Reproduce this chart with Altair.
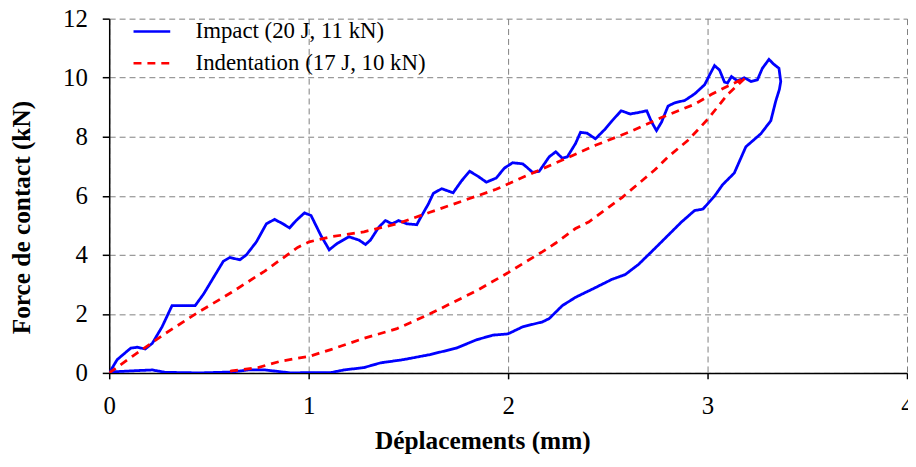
import altair as alt
import pandas as pd

# ---- data ----
impact_x = [0.0, 0.04, 0.108, 0.141, 0.18, 0.216, 0.265, 0.315, 0.373, 0.431, 0.473, 0.522, 0.572, 0.605,
            0.655, 0.688, 0.738, 0.788, 0.829, 0.871, 0.904, 0.937, 0.979, 1.012, 1.061, 1.103, 1.144, 1.202,
            1.252, 1.285, 1.31, 1.352, 1.385, 1.418, 1.451, 1.493, 1.542, 1.567, 1.6, 1.625, 1.667, 1.7,
            1.724, 1.766, 1.807, 1.849, 1.891, 1.94, 1.982, 2.023, 2.073, 2.09, 2.123, 2.156, 2.206, 2.239,
            2.272, 2.297, 2.338, 2.363, 2.396, 2.438, 2.488, 2.521, 2.567, 2.612, 2.653, 2.695, 2.72, 2.744,
            2.769, 2.802, 2.836, 2.886, 2.935, 2.985, 3.01, 3.035, 3.06, 3.085, 3.1, 3.12, 3.15, 3.184,
            3.218, 3.25, 3.275, 3.308, 3.333, 3.358, 3.367,
            3.36, 3.342, 3.317, 3.267, 3.192, 3.134, 3.076, 3.035, 2.977, 2.935, 2.869, 2.802, 2.72, 2.653,
            2.587, 2.521, 2.438, 2.338, 2.272, 2.206, 2.173, 2.073, 1.999, 1.924, 1.841, 1.741, 1.608, 1.476,
            1.36, 1.277, 1.177, 1.111, 1.012, 0.91, 0.78, 0.697, 0.614, 0.45, 0.28, 0.216, 0.116, 0.0]
impact_f = [0.0, 0.45, 0.84, 0.87, 0.81, 1.0, 1.56, 2.28, 2.28, 2.28, 2.67, 3.22, 3.78, 3.91,
            3.83, 4.0, 4.44, 5.05, 5.2, 5.05, 4.91, 5.16, 5.42, 5.33, 4.66, 4.17, 4.39, 4.61,
            4.5, 4.35, 4.5, 4.94, 5.16, 5.05, 5.16, 5.05, 5.02, 5.33, 5.72, 6.08, 6.24, 6.16,
            6.1, 6.5, 6.83, 6.66, 6.46, 6.6, 6.94, 7.12, 7.08, 6.99, 6.79, 6.83, 7.32, 7.49,
            7.27, 7.32, 7.77, 8.15, 8.12, 7.93, 8.27, 8.54, 8.88, 8.77, 8.82, 8.88, 8.49, 8.21,
            8.49, 9.04, 9.15, 9.23, 9.45, 9.76, 10.09, 10.41, 10.26, 9.85, 9.82, 10.04, 9.89, 10.0,
            9.87, 9.93, 10.32, 10.62, 10.45, 10.32, 9.87,
            9.6, 9.21, 8.54, 8.1, 7.66, 6.77, 6.38, 5.99, 5.55, 5.5, 5.11, 4.66, 4.11, 3.67,
            3.33, 3.17, 2.89, 2.56, 2.28, 1.84, 1.73, 1.56, 1.32, 1.28, 1.12, 0.84, 0.62, 0.45,
            0.34, 0.18, 0.1, 0.01, 0.01, 0.0, 0.1, 0.1, 0.03, 0.0, 0.02, 0.1, 0.07, 0.03]

indent_x = [0.0, 0.116, 0.282, 0.448, 0.614, 0.78, 0.945, 1.003, 1.111, 1.277, 1.443, 1.608, 1.774,
            1.94, 2.106, 2.272, 2.438, 2.604, 2.769, 2.935, 3.018, 3.1, 3.19,
            3.1, 3.002, 2.902, 2.802, 2.736, 2.687, 2.571, 2.404, 2.338, 2.239, 2.173, 1.999, 1.841,
            1.608, 1.443, 1.277, 1.111, 1.003, 0.862, 0.746, 0.614, 0.58]
indent_f = [0.0, 0.56, 1.34, 2.06, 2.73, 3.45, 4.25, 4.44, 4.61, 4.78, 5.05, 5.44, 5.83,
            6.22, 6.72, 7.21, 7.71, 8.15, 8.65, 9.1, 9.43, 9.71, 10.0,
            9.43, 8.6, 7.88, 7.32, 6.88, 6.6, 5.94, 5.11, 4.89, 4.4, 4.11, 3.39, 2.78,
            2.0, 1.5, 1.17, 0.79, 0.56, 0.4, 0.18, 0.07, 0.0]

series_names = ["Impact (20 J, 11 kN)", "Indentation (17 J, 10 kN)"]
x_ticks = [0, 1, 2, 3, 4]
y_ticks = [0, 2, 4, 6, 8, 10, 12]

assert len(impact_x) == len(impact_f)
assert len(indent_x) == len(indent_f)

df = pd.concat([
    pd.DataFrame({"x": impact_x, "f": impact_f, "series": series_names[0],
                  "i": range(len(impact_x))}),
    pd.DataFrame({"x": indent_x, "f": indent_f, "series": series_names[1],
                  "i": range(len(indent_x))}),
])

FONT = "Liberation Serif"

legend_kw = dict(title=None, orient="none", legendX=23, legendY=-7,
                 symbolType="stroke", symbolSize=1369, symbolStrokeWidth=2.5,
                 labelFont=FONT, labelFontSize=23, labelColor="black",
                 labelOffset=24, rowPadding=-6, labelLimit=500)

chart = alt.Chart(df).mark_line(strokeWidth=2.8, clip=True).encode(
    x=alt.X("x:Q", scale=alt.Scale(domain=[0, 4], nice=False),
            axis=alt.Axis(values=x_ticks, title="Déplacements (mm)", format="d",
                          labelFont=FONT, labelFontSize=25, labelFlush=False,
                          titleX=376, titleY=68, titleBaseline="middle",
                          tickSize=6, labelPadding=15)),
    y=alt.Y("f:Q", scale=alt.Scale(domain=[0, 12], nice=False),
            axis=alt.Axis(values=y_ticks, title="Force de contact (kN)", format="d",
                          labelFont=FONT, labelFontSize=25, labelFlush=False,
                          titleX=-88, titleY=200, titleBaseline="middle", titleAngle=270,
                          tickSize=7, labelPadding=15)),
    color=alt.Color("series:N",
                    scale=alt.Scale(domain=series_names, range=["#0000FF", "#FF0000"]),
                    legend=alt.Legend(**legend_kw)),
    strokeDash=alt.StrokeDash("series:N",
                              scale=alt.Scale(domain=series_names, range=[[1, 0], [8, 6]]),
                              legend=alt.Legend(**legend_kw)),
    order=alt.Order("i:Q"),
).properties(
    width=804, height=357,
    autosize=alt.AutoSizeParams(type="none"),
    padding={"left": 102, "top": 9, "right": 1, "bottom": 80},
).configure_view(
    stroke=None
).configure_axis(
    labelFont=FONT, labelFontSize=25, labelColor="black",
    titleFont=FONT, titleFontSize=25.5, titleFontWeight="bold", titleColor="black",
    domainColor="black", domainWidth=1.5, tickColor="black", tickWidth=1.5,
    grid=True, gridColor="#808080", gridDash=[6, 4], gridWidth=1,
)

chart.save("out.html", embed_options={"renderer": "svg", "actions": False})
